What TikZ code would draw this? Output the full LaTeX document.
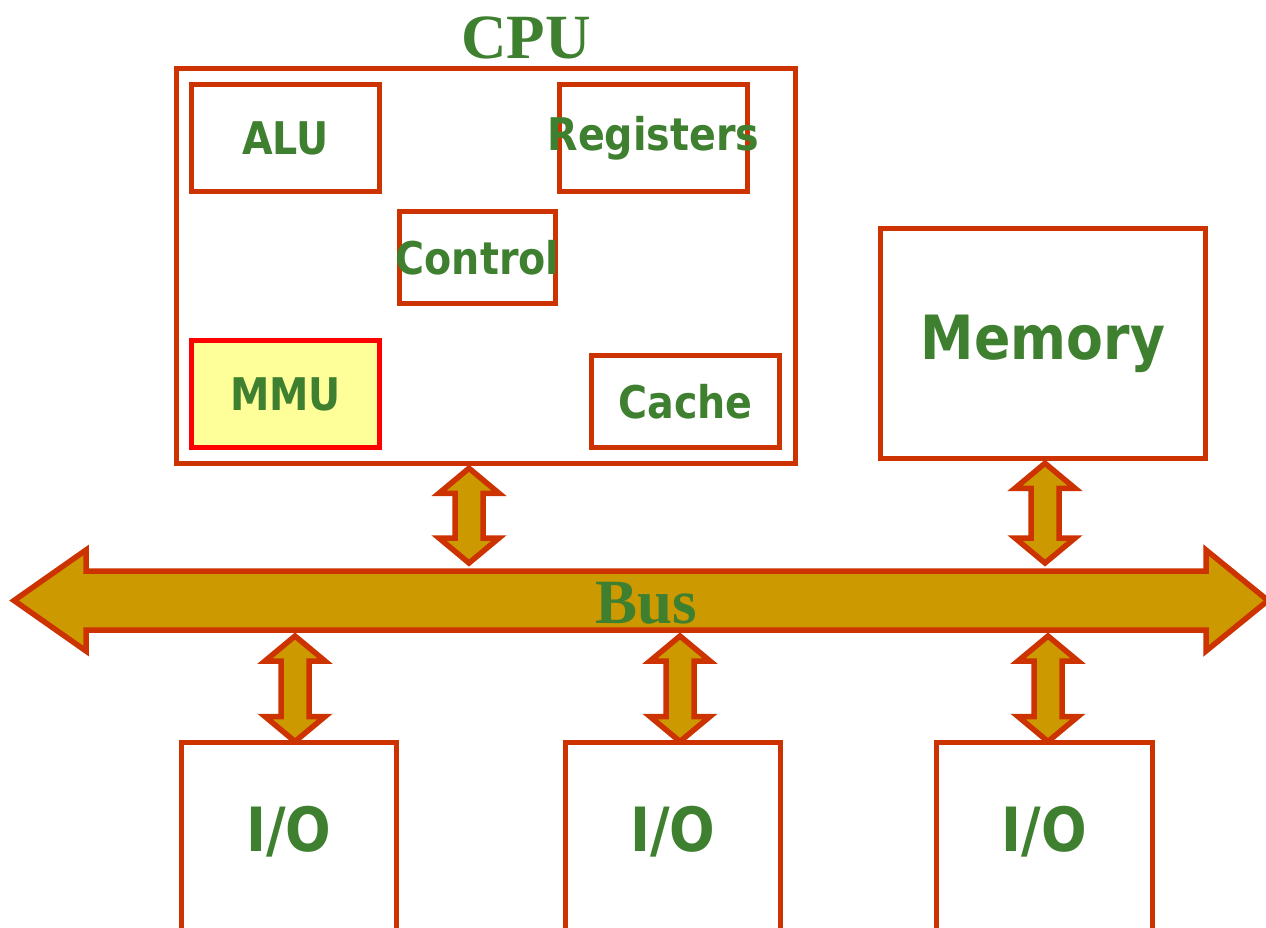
\documentclass[tikz,border=0pt]{standalone}
\usepackage{fontspec}
\setmainfont{Liberation Serif}
\newfontfamily\labelfont[FakeStretch=0.88]{DejaVu Sans}
\usetikzlibrary{calc}

\definecolor{edge}{HTML}{CC3300}
\definecolor{txt}{HTML}{3F8030}
\definecolor{busfill}{HTML}{CC9900}
\definecolor{mmufill}{HTML}{FFFF99}
\definecolor{mmuedge}{HTML}{FF0000}

\tikzset{
  unitbox/.style={draw=edge, line width=5.5pt, inner sep=0pt, fill=white},
  lbl/.style={text=txt, inner sep=0pt, font=\labelfont\bfseries\fontsize{45}{48}\selectfont},
  biglbl/.style={text=txt, inner sep=0pt, font=\labelfont\bfseries\fontsize{61}{64}\selectfont},
  serlbl/.style={text=txt, inner sep=0pt, font=\bfseries\fontsize{63}{67}\selectfont},
  busarrow/.style={draw=edge, fill=busfill, line width=5.5pt, miter limit=20},
}

% double-headed vertical arrow between two points on one vertical line
\newcommand\vlink[2]{%
  \draw[busarrow] let \p1=#1, \p2=#2 in
    (\x1,\y1) -- (\x1+30pt,\y1-25pt) -- (\x1+14pt,\y1-25pt) -- (\x1+14pt,\y2+25pt)
    -- (\x1+30pt,\y2+25pt) -- (\x1,\y2) -- (\x1-30pt,\y2+25pt) -- (\x1-14pt,\y2+25pt)
    -- (\x1-14pt,\y1-25pt) -- (\x1-30pt,\y1-25pt) -- cycle;}

\begin{document}
\begin{tikzpicture}[x=1pt,y=-1pt]
\useasboundingbox (0,0) rectangle (1266,927);

% processor and its units
\node[unitbox, minimum width=619, minimum height=395] (cpu) at (486,266) {};
\node[serlbl, anchor=base] (cpulbl) at (526,58) {CPU};

\node[unitbox, minimum width=188, minimum height=107, label={[lbl]center:ALU}] (alu) at (285.5,138) {};
\node[unitbox, minimum width=188, minimum height=107, label={[lbl]center:Registers}] (reg) at (653.5,138) {};
\node[unitbox, minimum width=156, minimum height=92, label={[lbl]center:Control}] (ctl) at (477.5,257.5) {};
\node[unitbox, draw=mmuedge, fill=mmufill, minimum width=188, minimum height=107, label={[lbl]center:MMU}] (mmu) at (285.5,394) {};
\node[unitbox, minimum width=188, minimum height=92, label={[lbl]center:Cache}] (cache) at (685.5,401.5) {};

% main memory
\node[unitbox, minimum width=325, minimum height=230, label={[biglbl]center:Memory}] (mem) at (1043,343.5) {};

% I/O devices, open towards the lower edge
\foreach \n/\xa/\xb in {io1/181.5/396.5, io2/565.5/780.5, io3/936.5/1152.5}{
  \draw[edge, line width=5.5pt] (\xa,935) -- (\xa,742.5) -- (\xb,742.5) -- (\xb,935);
  \coordinate (\n) at ({(\xa+\xb)/2},742.5);
}
\node[biglbl] (io1lbl) at (289,832) {I/O};
\node[biglbl] (io2lbl) at (673,832) {I/O};
\node[biglbl] (io3lbl) at (1044.5,832) {I/O};

% system bus
\draw[busarrow] (14,600.5) -- (86,550) -- (86,571) -- (1206,571) -- (1206,550)
  -- (1268,600.5) -- (1206,651) -- (1206,630) -- (86,630) -- (86,651) -- cycle;
\node[serlbl, anchor=base] (buslbl) at (646,623) {Bus};

% attachment points on the bus
\coordinate (bt1) at (469,563);
\coordinate (bt2) at (1045,563);
\coordinate (bb1) at (295,636);
\coordinate (bb2) at (680,636);
\coordinate (bb3) at (1048,636);

% links to the bus
\vlink{($(cpu.south -| bt1)+(0,2)$)}{(bt1)}
\vlink{($(mem.south -| bt2)+(0,2)$)}{(bt2)}
\vlink{(bb1)}{($(io1 -| bb1)+(0,-1)$)}
\vlink{(bb2)}{($(io2 -| bb2)+(0,-1)$)}
\vlink{(bb3)}{($(io3 -| bb3)+(0,-1)$)}
\end{tikzpicture}
\end{document}
